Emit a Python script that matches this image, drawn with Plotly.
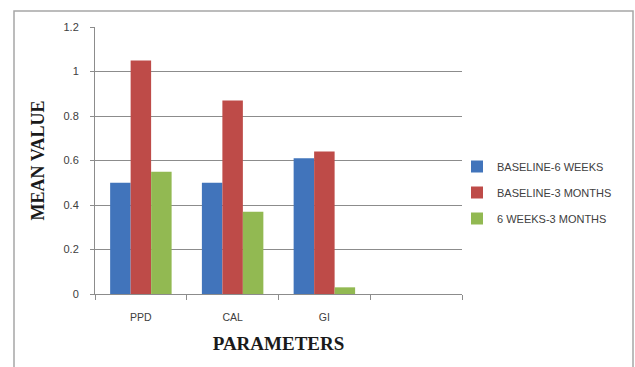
import plotly.graph_objects as go

categories = ["PPD", "CAL", "GI", " "]
series_names = ["BASELINE-6 WEEKS", "BASELINE-3 MONTHS", "6 WEEKS-3 MONTHS"]
baseline_6w = [0.50, 0.50, 0.61, None]
baseline_3m = [1.05, 0.87, 0.64, None]
w6_3m = [0.55, 0.37, 0.03, None]
colors = ["#4174BB", "#BE4B48", "#92B952"]

fig = go.Figure()
for name, vals, col in zip(series_names, [baseline_6w, baseline_3m, w6_3m], colors):
    fig.add_trace(go.Bar(x=categories, y=vals, name=name, marker_color=col,
                         marker_line_width=0, legendgroup=name))

W, H = 635, 367
L, R, T, B = 95, 462, 27, 294
pw, ph = R - L, B - T

def px(x):
    return (x - L) / pw

def py(y):
    return (B - y) / ph

fig.update_layout(
    width=W, height=H,
    margin=dict(l=L, r=W - R, t=T, b=H - B, autoexpand=False),
    paper_bgcolor="white", plot_bgcolor="white",
    barmode="group", bargap=0.33, bargroupgap=0,
    font=dict(family="Liberation Sans", size=10, color="#404040"),
    legend=dict(x=px(457), y=py(152), xanchor="left", yanchor="top",
                font=dict(family="Liberation Sans", size=11, color="#404040"),
                traceorder="grouped", tracegroupgap=7, bgcolor="rgba(0,0,0,0)"),
    xaxis=dict(
        type="category", categoryorder="array", categoryarray=categories,
        range=[-0.5, 3.5], showline=True, linecolor="#8c8c8c", linewidth=1,
        ticks="outside", tickson="boundaries", ticklen=5, tickcolor="#8c8c8c",
        showgrid=False, ticklabelstandoff=13, automargin=False,
        tickfont=dict(size=10.5),
        title=dict(text="<b>PARAMETERS</b>", standoff=15,
                   font=dict(family="Liberation Serif", size=19, color="#1a1a1a")),
    ),
    yaxis=dict(
        range=[0, 1.2], dtick=0.2, showline=True, linecolor="#8c8c8c", linewidth=1,
        ticks="outside", ticklen=4, tickcolor="#8c8c8c",
        showgrid=True, gridcolor="#8c8c8c", gridwidth=1, zeroline=False,
        ticklabelstandoff=9, automargin=False,
        tickfont=dict(size=11),
        title=dict(text="<b>MEAN VALUE</b>", standoff=14,
                   font=dict(family="Liberation Serif", size=18, color="#1a1a1a")),
    ),
    shapes=[dict(type="rect", xref="paper", yref="paper",
                 x0=px(14), x1=px(633), y0=py(380), y1=py(11),
                 line=dict(color="#a6a6a6", width=1.5), layer="below")],
)

fig.write_html("out.html", config={"displayModeBar": False},
               post_script="document.body.style.margin='0';document.body.style.padding='0';")
